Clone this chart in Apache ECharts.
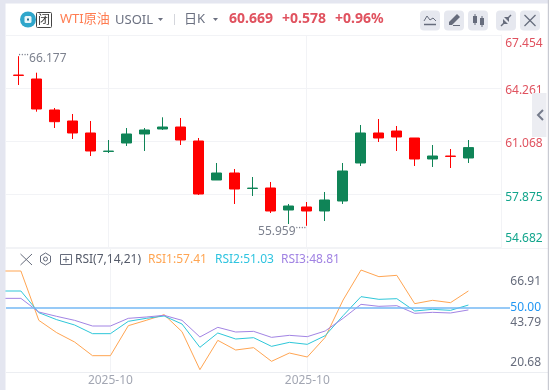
<!DOCTYPE html>
<html>
<head>
<meta charset="utf-8">
<title>WTI原油 USOIL</title>
<style>
html, body { margin: 0; padding: 0; background: #fff; }
#main { width: 549px; height: 390px; }
</style>
<script src="https://cdn.jsdelivr.net/npm/echarts@6/dist/echarts.min.js"></script>
</head>
<body>
<div id="main"></div>
<script>
// 横轴标签，只有两根K线上有月份
var categories = ['', '', '', '', '', '2025-10', '', '', '', '', '', '', '', '', '', '', '2025-10', '', '', '', '', '', '', '', '', '', ''];
// K线 [开, 收, 低, 高]，红跌绿涨
var candles = [
    [65.04, 65.02, 64.442, 66.177],
    [64.803, 62.996, 62.833, 65.183],
    [62.936, 62.231, 61.851, 63.056],
    [62.273, 61.55, 61.189, 62.695],
    [61.55, 60.466, 60.164, 62.273],
    [60.44, 60.46, 60.345, 61.128],
    [60.948, 61.49, 60.767, 61.851],
    [61.49, 61.731, 60.466, 61.851],
    [61.791, 61.911, 61.731, 62.496],
    [61.911, 61.128, 60.827, 62.454],
    [61.068, 57.875, 57.815, 61.249],
    [58.718, 59.14, 58.718, 59.743],
    [59.14, 58.176, 57.273, 59.381],
    [58.21, 58.23, 57.755, 58.899],
    [58.237, 56.851, 56.73, 58.598],
    [56.911, 57.152, 56.068, 57.273],
    [57.092, 56.851, 55.959, 57.393],
    [56.851, 57.514, 56.248, 57.996],
    [57.453, 59.261, 57.273, 59.743],
    [59.743, 61.55, 59.562, 62.032],
    [61.55, 61.249, 61.008, 62.393],
    [61.67, 61.309, 60.466, 61.972],
    [61.249, 59.984, 59.562, 61.249],
    [59.984, 60.164, 59.502, 60.827],
    [60.16, 60.14, 59.441, 60.586],
    [60.044, 60.669, 59.743, 61.128]
];
// RSI 比K线多一个点，是图左边露出来的前一根
var rsi1 = [66.46, 66.46, 44.10, 38.51, 34.28, 28.08, 28.08, 41.68, 44.10, 46.67, 38.96, 21.74, 35.03, 30.65, 31.71, 25.52, 29.29, 27.48, 36.39, 53.32, 66.91, 63.90, 64.50, 51.66, 53.17, 52.11, 57.41];
var rsi2 = [57.40, 57.40, 47.58, 44.40, 41.99, 38.06, 38.06, 43.65, 45.01, 46.07, 42.44, 31.86, 38.36, 35.64, 36.24, 32.31, 34.13, 33.22, 37.15, 46.22, 54.83, 53.62, 53.92, 48.33, 49.09, 48.63, 51.03];
var rsi3 = [54.07, 54.07, 47.88, 45.91, 44.10, 41.53, 41.53, 45.01, 45.61, 46.37, 44.10, 36.55, 40.93, 38.81, 39.11, 36.39, 37.30, 36.70, 39.27, 45.01, 51.35, 50.45, 50.75, 47.27, 47.73, 47.43, 48.81];
var rsiCategories = [''].concat(categories);
// 纵轴刻度
var priceTicks = [54.682, 57.875, 61.068, 64.261, 67.454];
var rsiTicks = [20.68, 43.79, 50.00, 66.91];

var RED = '#ff0000', GREEN = '#0f8457', TEXT_RED = '#e0525f', TEXT_GREEN = '#12a58c', GRAY = '#666c7c', LINE = '#f2f3f6';
var FONT = '"Noto Sans", "Noto Sans CJK SC", sans-serif';

function hasLabel(index, value) { return value !== ''; }

// 图表外壳：顶栏文字、按钮
function text(x, y, str, size, color, weight) {
    return { type: 'text', x: x, y: y, z: 20, silent: true, style: { text: str, fontSize: size, fontFamily: FONT, fontWeight: weight || 'normal', fill: color, verticalAlign: 'middle' } };
}
function rect(x, y, w, h, fill, r, z) {
    return { type: 'rect', z: z || 20, silent: true, shape: { x: x, y: y, width: w, height: h, r: r || 0 }, style: { fill: fill } };
}
function poly(points, color, width) {
    return { type: 'polyline', z: 21, silent: true, shape: { points: points }, style: { stroke: color, fill: null, lineWidth: width || 1 } };
}
function gon(points, color) {
    return { type: 'polygon', z: 21, silent: true, shape: { points: points }, style: { fill: color } };
}
var chrome = [
    rect(0, 0, 5.5, 390, '#e4e6f0', 0, 30),
    rect(0, 0, 549, 3.5, '#e4e6f0', 0, 30),
    rect(547.8, 0, 1.2, 390, '#c8cad2', 0, 30),
    rect(532, 93, 14.5, 44, '#ecedf2', 0, 5),
    poly([[543, 110], [538, 115], [543, 120]], '#757b8b', 2),
    // 分隔线
    poly([[6, 248.5], [548, 248.5]], LINE, 1),
    poly([[6, 372.5], [548, 372.5]], '#eceef2', 1),
    // 标识
    { type: 'circle', z: 20, silent: true, shape: { cx: 28, cy: 19.5, r: 8 }, style: { fill: '#2fa6cb' } },
    rect(24.5, 16, 7, 7, '#eaf6fa', 1.5),
    rect(27, 18.5, 2, 2, '#2b6f8c'),
    { type: 'rect', z: 20, silent: true, shape: { x: 36.5, y: 12.5, width: 15, height: 15, r: 1 }, style: { fill: '#fff', stroke: '#444', lineWidth: 1 } },
    text(38, 20.5, '闭', 12, '#333'),
    text(60, 19, 'WTI原油', 13, '#ff7d52'),
    text(115, 20.5, 'USOIL', 13, '#6b7080'),
    gon([[158, 18], [163, 18], [160.5, 21]], '#6b7080'),
    poly([[174.5, 14], [174.5, 25]], '#d4d6dc', 1),
    text(184, 19, '日K', 13, '#6b7080'),
    gon([[213, 18], [218, 18], [215.5, 21]], '#6b7080'),
    text(229, 19, '60.669', 14, TEXT_RED, 'bold'),
    text(282, 19, '+0.578', 14, TEXT_RED, 'bold'),
    text(335, 19, '+0.96%', 14, TEXT_RED, 'bold'),
    // 右上按钮
    rect(420, 10.5, 20, 20, '#e6e8ef', 4),
    rect(444, 10.5, 20, 20, '#e6e8ef', 4),
    rect(468, 10.5, 20, 20, '#e6e8ef', 4),
    rect(496, 10.5, 20, 20, '#e6e8ef', 4),
    rect(520, 10.5, 20, 20, '#e6e8ef', 4),
    poly([[424, 21], [427, 16], [430, 20], [433, 18], [436, 21]], GRAY, 1),
    poly([[424, 24.5], [436, 24.5]], GRAY, 1.5),
    gon([[449, 22], [449, 25], [452, 25], [460, 17], [457, 14]], GRAY),
    poly([[453, 25.5], [460, 25.5]], GRAY, 1),
    rect(473, 16, 4, 7, GRAY),
    rect(480, 18, 4, 7, GRAY),
    poly([[475, 14], [475, 25]], GRAY, 1),
    poly([[482, 16], [482, 27]], GRAY, 1),
    poly([[501, 26], [505, 22]], GRAY, 1.5),
    poly([[511, 15], [507, 19]], GRAY, 1.5),
    gon([[503, 19], [508, 24], [503, 24]], GRAY),
    gon([[509, 17], [509, 22], [504, 17]], GRAY),
    poly([[524.5, 15], [535.5, 26]], GRAY, 1.2),
    poly([[535.5, 15], [524.5, 26]], GRAY, 1.2),
    // RSI 工具栏
    poly([[20.5, 254], [32, 265]], GRAY, 1),
    poly([[32, 254], [20.5, 265]], GRAY, 1),
    { type: 'polygon', z: 21, silent: true, shape: { points: [[45.5, 253], [50.5, 256], [50.5, 262], [45.5, 265], [40.5, 262], [40.5, 256]] }, style: { fill: null, stroke: GRAY, lineWidth: 1 } },
    { type: 'circle', z: 21, silent: true, shape: { cx: 45.5, cy: 259, r: 2 }, style: { fill: null, stroke: GRAY, lineWidth: 1 } },
    { type: 'rect', z: 21, silent: true, shape: { x: 60.5, y: 254.5, width: 11, height: 10 }, style: { fill: null, stroke: GRAY, lineWidth: 1 } },
    poly([[66, 256.5], [66, 262.5]], GRAY, 1),
    poly([[63, 259.5], [69, 259.5]], GRAY, 1),
    text(75, 259.5, 'RSI(7,14,21)', 12, '#555b6a'),
    text(148, 259.5, 'RSI1:57.41', 12, '#ffa552'),
    text(215, 259.5, 'RSI2:51.03', 12, '#2fc4e0'),
    text(281, 259.5, 'RSI3:48.81', 12, '#a183e3')
];

var myChart = echarts.init(document.getElementById('main'));
var option = {
    animation: false,
    backgroundColor: '#fff',
    textStyle: { fontFamily: FONT },
    graphic: chrome,
    grid: [
        { left: 6, width: 495.7, top: 35, height: 212 }, // 价格刻度和网格
        { left: 9.3, width: 486, top: 35, height: 212 }, // K线
        { left: 0.3, width: 486, top: 249, height: 123 }, // RSI 线
        { left: 6, width: 504, top: 270, height: 102 } // RSI 刻度和50线
    ],
    xAxis: [
        { gridIndex: 0, type: 'category', data: [''], show: false },
        {
            gridIndex: 1, type: 'category', data: categories,
            axisLine: { show: false }, axisTick: { show: false }, axisLabel: { show: false },
            splitLine: { show: true, alignWithLabel: true, interval: hasLabel, lineStyle: { color: LINE, width: 1 } }
        },
        {
            gridIndex: 2, type: 'category', data: rsiCategories, boundaryGap: false,
            axisLine: { show: false }, axisTick: { show: false },
            axisLabel: { interval: 0, color: '#a3a7b3', fontSize: 12, margin: 3, hideOverlap: false },
            splitLine: { show: true, interval: hasLabel, lineStyle: { color: LINE, width: 1 } }
        },
        { gridIndex: 3, type: 'category', data: [''], show: false }
    ],
    yAxis: [
        {
            gridIndex: 0, type: 'value', position: 'right', min: 54.682, max: 67.454,
            axisLine: { show: true, lineStyle: { color: LINE } },
            axisTick: { show: false, customValues: priceTicks },
            splitLine: { show: true, lineStyle: { color: LINE, width: 1 } },
            axisLabel: {
                customValues: priceTicks, align: 'right', margin: 41, fontSize: 12,
                formatter: function (v) {
                    var s = v.toFixed(3);
                    if (v === 67.454) return '{redTop|' + s + '}';
                    if (v === 54.682) return '{greenBottom|' + s + '}';
                    return (v > 60 ? '{red|' : '{green|') + s + '}';
                },
                rich: {
                    red: { color: TEXT_RED, fontSize: 12, padding: [6, 0, 0, 0] },
                    green: { color: TEXT_GREEN, fontSize: 12, padding: [7, 0, 0, 0] },
                    redTop: { color: TEXT_RED, fontSize: 12, padding: [18, 0, 0, 0] },
                    greenBottom: { color: TEXT_GREEN, fontSize: 12, padding: [0, 0, 17, 0] }
                }
            }
        },
        { gridIndex: 1, type: 'value', min: 54.682, max: 67.454, show: false, splitLine: { show: false } },
        { gridIndex: 2, type: 'value', min: 20.68, max: 76.44, show: false, splitLine: { show: false } },
        {
            gridIndex: 3, type: 'value', position: 'right', min: 20.68, max: 66.91,
            axisLine: { show: false },
            axisTick: { show: false, customValues: rsiTicks },
            splitLine: { show: false },
            axisLabel: {
                customValues: rsiTicks, align: 'right', margin: 31, fontSize: 12,
                formatter: function (v) {
                    var s = v.toFixed(2);
                    if (v === 66.91) return '{top|' + s + '}';
                    if (v === 20.68) return '{bottom|' + s + '}';
                    if (v === 50) return '{blue|' + s + '}';
                    return '{mid|' + s + '}';
                },
                rich: {
                    top: { color: GRAY, fontSize: 12, padding: [23, 0, 0, 0] },
                    bottom: { color: GRAY, fontSize: 12, padding: [0, 0, 18, 0] },
                    blue: { color: '#2196f3', fontSize: 12 },
                    mid: { color: GRAY, fontSize: 12, padding: [4, 0, 0, 0] }
                }
            }
        }
    ],
    series: [
        {
            type: 'candlestick', xAxisIndex: 1, yAxisIndex: 1, data: candles, barWidth: 11,
            itemStyle: { color: GREEN, color0: RED, borderColor: GREEN, borderColor0: RED, borderWidth: 1 },
            markPoint: {
                symbol: 'circle', symbolSize: 0, silent: true,
                data: [
                    { coord: [0, 66.177], label: { position: 'right', distance: 0, offset: [0, 2], formatter: '{d|····}{t|66.177}' } },
                    { coord: [16, 55.959], label: { position: 'left', distance: 0, offset: [0, 6], formatter: '{t|55.959}{d|····}' } }
                ],
                label: {
                    rich: {
                        t: { color: '#7c818e', fontSize: 12 },
                        d: { color: '#7c818e', fontSize: 10, padding: [0, 0, 7, 0] }
                    }
                }
            }
        },
        { type: 'line', name: 'RSI1', xAxisIndex: 2, yAxisIndex: 2, data: rsi1, symbol: 'none', lineStyle: { color: '#ffa552', width: 1 } },
        { type: 'line', name: 'RSI2', xAxisIndex: 2, yAxisIndex: 2, data: rsi2, symbol: 'none', lineStyle: { color: '#2ec7d9', width: 1 } },
        { type: 'line', name: 'RSI3', xAxisIndex: 2, yAxisIndex: 2, data: rsi3, symbol: 'none', lineStyle: { color: '#a284e4', width: 1 } },
        {
            type: 'line', xAxisIndex: 3, yAxisIndex: 3, data: [], symbol: 'none',
            markLine: {
                silent: true, symbol: 'none', label: { show: false },
                lineStyle: { color: '#74b9f5', width: 1.5, type: 'solid' },
                data: [{ yAxis: 50 }]
            }
        }
    ]
};
myChart.setOption(option);
</script>
</body>
</html>
